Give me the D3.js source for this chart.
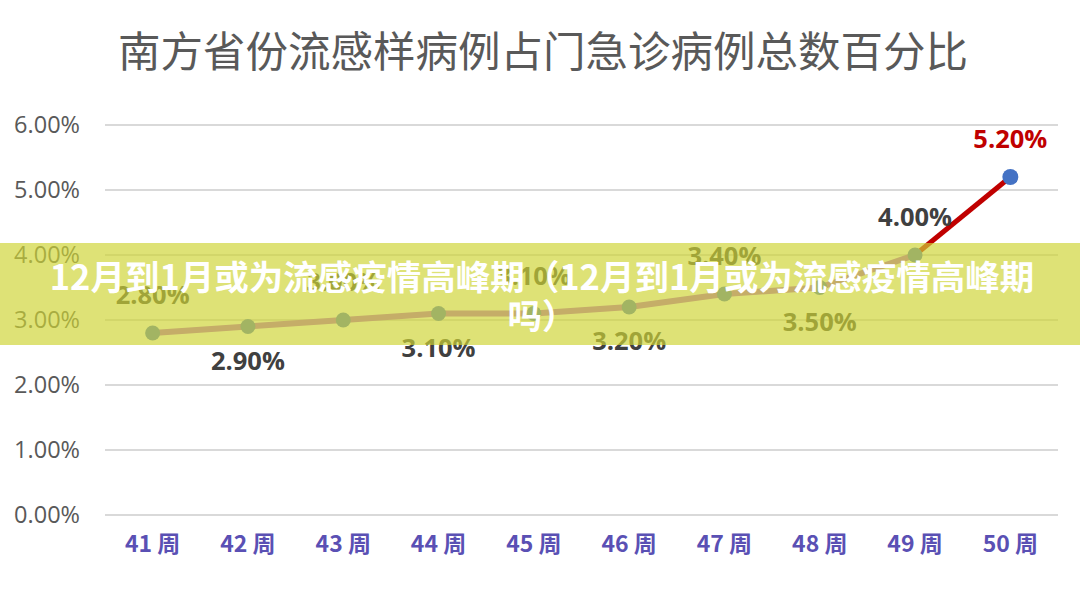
<html>
  <head>
    <meta charset="utf-8" />
    <style>
      body {
        margin: 0;
        background: #fff;
        font-family: "Noto Sans CJK SC", "Open Sans", sans-serif;
      }
      svg {
        display: block;
      }
      .title {
        font-size: 42.5px;
        fill: #595959;
        text-anchor: middle;
      }
      .y-label {
        font-family: "Open Sans", sans-serif;
        font-size: 23.5px;
        fill: #595959;
        text-anchor: end;
      }
      .x-label {
        font-size: 23px;
        font-weight: bold;
        fill: #5a50b4;
        text-anchor: middle;
      }
      .grid {
        stroke: #d9d9d9;
        stroke-width: 2;
      }
      .value-label {
        font-family: "Open Sans", sans-serif;
        font-size: 25.5px;
        font-weight: bold;
        fill: #404040;
        text-anchor: middle;
      }
      .banner-text {
        font-size: 34.5px;
        font-weight: bold;
        fill: #fff;
        text-anchor: middle;
      }
    </style>
  </head>
  <body>
    <script src="https://d3js.org/d3.v7.min.js"></script>
    <script>
      const weeks = ["41 周", "42 周", "43 周", "44 周", "45 周", "46 周", "47 周", "48 周", "49 周", "50 周"];
      const rates = [2.8, 2.9, 3.0, 3.1, 3.1, 3.2, 3.4, 3.5, 4.0, 5.2];
      const yTicks = [0, 1, 2, 3, 4, 5, 6];
      const titleText = "南方省份流感样病例占门急诊病例总数百分比";
      const bannerLines = ["12月到1月或为流感疫情高峰期（12月到1月或为流感疫情高峰期", "吗）"];

      const width = 1080,
        height = 590;

      const svg = d3.select("body").append("svg").attr("width", width).attr("height", height);

      const x = d3.scaleBand().domain(weeks).range([105, 1058]);
      const y = d3.scaleLinear().domain([0, 6]).range([515, 125]);
      const cx = (d) => x(d) + x.bandwidth() / 2;
      const fmt = (v) => v.toFixed(2) + "%";

      svg.append("text").attr("class", "title").attr("x", 543).attr("y", 67).text(titleText);

      // grid + y labels
      const grid = svg.append("g");
      yTicks.forEach((t) => {
        grid
          .append("line")
          .attr("class", "grid")
          .attr("x1", 105)
          .attr("x2", 1058)
          .attr("y1", y(t))
          .attr("y2", y(t));
        grid
          .append("text")
          .attr("class", "y-label")
          .attr("x", 80)
          .attr("y", y(t))
          .attr("dy", "0.35em")
          .text(fmt(t));
      });

      // x labels
      svg
        .append("g")
        .selectAll("text")
        .data(weeks)
        .join("text")
        .attr("class", "x-label")
        .attr("x", (d) => cx(d))
        .attr("y", 552)
        .text((d) => d);

      const pts = weeks.map((w, i) => [cx(w), y(rates[i])]);

      // line up to week 49, then the red jump to week 50
      svg
        .append("path")
        .attr("d", d3.line()(pts.slice(0, 9)))
        .attr("fill", "none")
        .attr("stroke", "#b05ad4")
        .attr("stroke-width", 6)
        .attr("stroke-linejoin", "round");

      svg
        .append("path")
        .attr("d", d3.line()(pts.slice(8)))
        .attr("fill", "none")
        .attr("stroke", "#c00000")
        .attr("stroke-width", 5);

      svg
        .append("g")
        .selectAll("circle")
        .data(pts)
        .join("circle")
        .attr("cx", (d) => d[0])
        .attr("cy", (d) => d[1])
        .attr("r", (d, i) => (i === 9 ? 8 : 7.5))
        .attr("fill", "#4472c4");

      // value labels: alternate above / below, last two above
      svg
        .append("g")
        .selectAll("text")
        .data(rates)
        .join("text")
        .attr("class", "value-label")
        .attr("x", (d, i) => pts[i][0])
        .attr("y", (d, i) => {
          const above = i % 2 === 0 || i >= 8;
          return above ? pts[i][1] - 29 : pts[i][1] + 43;
        })
        .style("fill", (d, i) => (i === 9 ? "#c00000" : null))
        .text((d) => fmt(d));

      // banner on top
      svg
        .append("rect")
        .attr("x", 0)
        .attr("y", 243)
        .attr("width", width)
        .attr("height", 102)
        .attr("fill", "rgb(206,212,53)")
        .attr("fill-opacity", 0.68);

      svg
        .append("g")
        .selectAll("text")
        .data(bannerLines)
        .join("text")
        .attr("class", "banner-text")
        .attr("x", 542)
        .attr("y", (d, i) => 290 + i * 39)
        .text((d) => d);
    </script>
  </body>
</html>
